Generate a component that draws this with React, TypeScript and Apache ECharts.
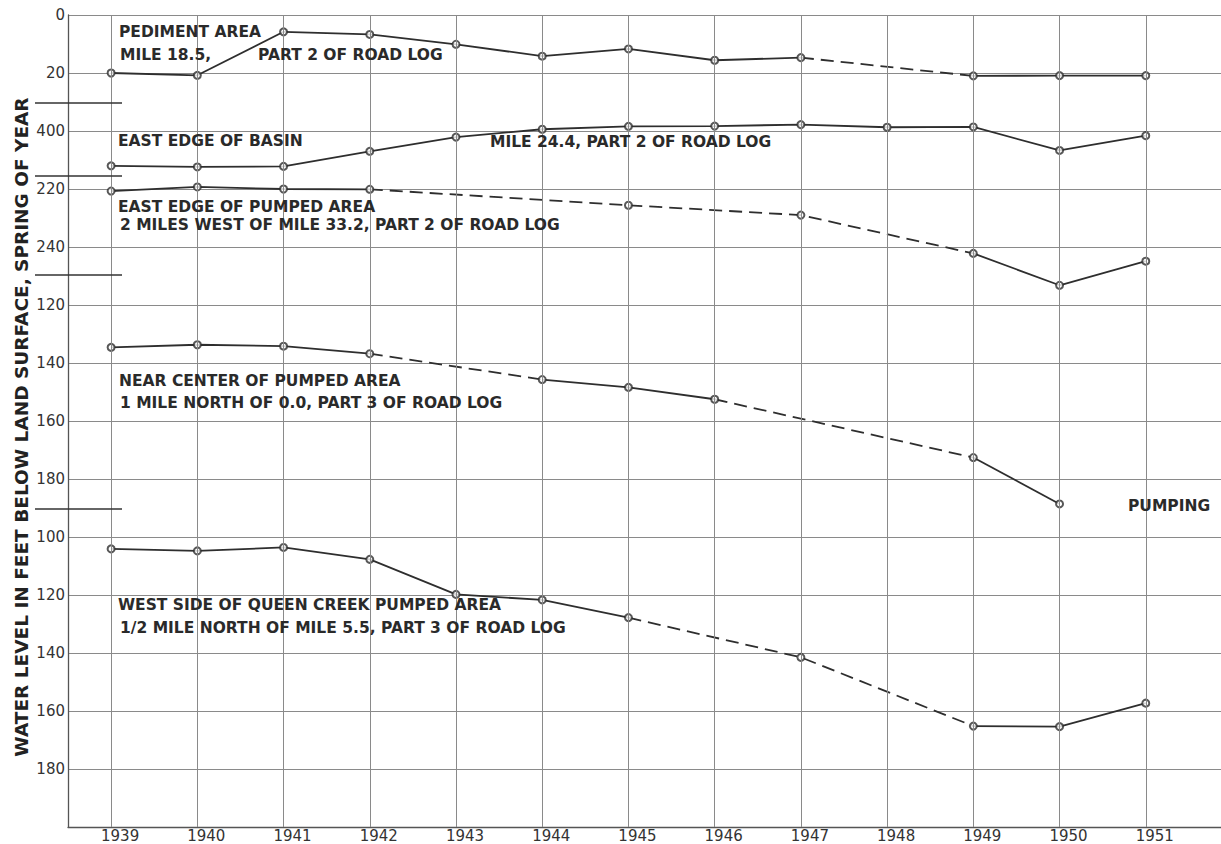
import React, { useEffect, useRef } from "react";
import * as echarts from "echarts";

// ---- data (feet below land surface, spring of year) ----
const YEARS = [1939, 1940, 1941, 1942, 1943, 1944, 1945, 1946, 1947, 1948, 1949, 1950, 1951];

const Y_TICK_LABELS = ["0", "20", "400", "220", "240", "120", "140", "160", "180", "100", "120", "140", "160", "180", ""];

// Pediment area, mile 18.5
const PEDIMENT_YEARS = [1939, 1940, 1941, 1942, 1943, 1944, 1945, 1946, 1947, 1949, 1950, 1951];
const PEDIMENT_FEET = [20.0, 20.8, 5.8, 6.7, 10.1, 14.2, 11.7, 15.6, 14.7, 21.0, 20.9, 20.9];
const PEDIMENT_DASHED_FROM = [1947];
const PEDIMENT_SHIFT = 0;

// East edge of basin, mile 24.4
const BASIN_YEARS = [1939, 1940, 1941, 1942, 1943, 1944, 1945, 1946, 1947, 1948, 1949, 1950, 1951];
const BASIN_FEET = [212.0, 212.4, 212.2, 207.0, 202.1, 199.4, 198.4, 198.3, 197.8, 198.7, 198.6, 206.7, 201.6];
const BASIN_DASHED_FROM: number[] = [];
const BASIN_SHIFT = -160;

// East edge of pumped area, 2 miles west of mile 33.2
const EDGE_YEARS = [1939, 1940, 1941, 1942, 1945, 1947, 1949, 1950, 1951];
const EDGE_FEET = [220.7, 219.3, 220.0, 220.1, 225.6, 229.0, 242.2, 253.2, 244.9];
const EDGE_DASHED_FROM = [1942, 1945, 1947];
const EDGE_SHIFT = -160;

// Near center of pumped area
const CENTER_YEARS = [1939, 1940, 1941, 1942, 1944, 1945, 1946, 1949, 1950];
const CENTER_FEET = [134.6, 133.7, 134.2, 136.8, 145.7, 148.4, 152.5, 172.6, 188.6];
const CENTER_DASHED_FROM = [1942, 1946];
const CENTER_SHIFT = -20;

// West side of Queen Creek pumped area
const WEST_YEARS = [1939, 1940, 1941, 1942, 1943, 1944, 1945, 1947, 1949, 1950, 1951];
const WEST_FEET = [104.1, 104.8, 103.6, 107.7, 119.8, 121.7, 127.8, 141.5, 165.2, 165.4, 157.3];
const WEST_DASHED_FROM = [1945, 1947];
const WEST_SHIFT = 80;

const LINE_COLOR = "#2e2e2e";
const GRID_COLOR = "#8a8a8a";
const TEXT_FONT = "DejaVu Sans";

function buildWell(name: string, years: number[], feet: number[], dashedFrom: number[], shift: number) {
  const pts = years.map((y, i) => [y, feet[i] + shift]);
  const out: any[] = [];
  let cur: number[][] = [pts[0]];
  let curDashed = dashedFrom.includes(years[0]);
  for (let i = 0; i < pts.length - 1; i++) {
    const d = dashedFrom.includes(years[i]);
    if (d !== curDashed && cur.length > 1) {
      out.push({ data: cur, dashed: curDashed });
      cur = [pts[i]];
    }
    curDashed = d;
    cur.push(pts[i + 1]);
  }
  if (cur.length > 1) out.push({ data: cur, dashed: curDashed });
  const series: any[] = out.map((seg, k) => ({
    name: name + "-" + k,
    type: "line",
    data: seg.data,
    showSymbol: false,
    symbol: "none",
    silent: true,
    z: 3,
    lineStyle: { color: LINE_COLOR, width: 1.8, type: seg.dashed ? [13, 7] : "solid" },
  }));
  series.push({
    name: name + "-pts",
    type: "scatter",
    data: pts,
    symbol: "emptyCircle",
    symbolSize: 7,
    silent: true,
    z: 4,
    itemStyle: { color: LINE_COLOR, borderColor: LINE_COLOR, borderWidth: 1.3 },
  });
  return series;
}

function txt(text: string, x: number, y: number, size = 15.5, bold = true) {
  return {
    type: "text",
    x,
    y,
    z: 10,
    style: {
      text,
      fill: "#2a2a2a",
      font: `${bold ? "bold " : ""}${size}px "${TEXT_FONT}"`,
      align: "left",
      verticalAlign: "middle",
      textAlign: "left",
      textVerticalAlign: "middle",
    },
  };
}

function brk(y: number) {
  return {
    type: "line",
    z: 10,
    shape: { x1: 35, y1: y, x2: 122, y2: y },
    style: { stroke: "#333", lineWidth: 1.5 },
  };
}

export default function App() {
  const ref = useRef<HTMLDivElement>(null);
  useEffect(() => {
    document.body.style.margin = "0";
    document.body.style.overflow = "hidden";
    document.documentElement.style.overflow = "hidden";
    if (!ref.current) return;
    const chart = echarts.init(ref.current, undefined, { renderer: "svg" });
    const series: any[] = [
      ...buildWell("pediment", PEDIMENT_YEARS, PEDIMENT_FEET, PEDIMENT_DASHED_FROM, PEDIMENT_SHIFT),
      ...buildWell("basin", BASIN_YEARS, BASIN_FEET, BASIN_DASHED_FROM, BASIN_SHIFT),
      ...buildWell("edge", EDGE_YEARS, EDGE_FEET, EDGE_DASHED_FROM, EDGE_SHIFT),
      ...buildWell("center", CENTER_YEARS, CENTER_FEET, CENTER_DASHED_FROM, CENTER_SHIFT),
      ...buildWell("west", WEST_YEARS, WEST_FEET, WEST_DASHED_FROM, WEST_SHIFT),
    ];
    // vertical year grid lines
    series.push({
      name: "years",
      type: "line",
      data: [],
      silent: true,
      z: 1,
      markLine: {
        silent: true,
        symbol: ["none", "none"],
        label: { show: false },
        animation: false,
        lineStyle: { color: GRID_COLOR, width: 1, type: "solid" },
        data: YEARS.map((y) => ({ xAxis: y })),
      },
    });
    chart.setOption({
      animation: false,
      backgroundColor: "#ffffff",
      grid: { left: 68, top: 15, width: 1164, height: 812, containLabel: false },
      xAxis: {
        type: "value",
        min: 1938.5,
        max: 1952,
        interval: 0.5,
        axisLine: { show: true, onZero: false, lineStyle: { color: "#555", width: 1.3 } },
        axisTick: { show: false },
        splitLine: { show: false },
        axisLabel: {
          margin: 1,
          color: "#333",
          fontFamily: TEXT_FONT,
          fontSize: 15,
          padding: [0, 0, 0, 18],
          formatter: (v: number) => (YEARS.includes(v) ? String(v) : ""),
        },
      },
      yAxis: {
        type: "value",
        inverse: true,
        min: 0,
        max: 280,
        interval: 20,
        axisLine: { show: true, onZero: false, lineStyle: { color: "#555", width: 1.3 } },
        axisTick: { show: false },
        splitLine: { show: true, lineStyle: { color: GRID_COLOR, width: 1 } },
        axisLabel: {
          margin: 3,
          color: "#333",
          fontFamily: TEXT_FONT,
          fontSize: 15,
          showMinLabel: true,
          showMaxLabel: true,
          formatter: (v: number) => Y_TICK_LABELS[Math.round(v / 20)] ?? "",
        },
      },
      graphic: [
        {
          type: "text",
          x: 21,
          y: 427,
          rotation: Math.PI / 2,
          z: 10,
          style: {
            text: "WATER LEVEL IN FEET BELOW LAND SURFACE, SPRING OF YEAR",
            fill: "#222",
            font: `bold 18.5px "${TEXT_FONT}"`,
            align: "center",
            verticalAlign: "middle",
            textAlign: "center",
            textVerticalAlign: "middle",
          },
        },
        brk(103),
        brk(176),
        brk(275),
        brk(509),
        txt("PEDIMENT AREA", 119, 32),
        txt("MILE 18.5,", 120, 55),
        txt("PART 2 OF ROAD LOG", 258, 55),
        txt("EAST EDGE OF BASIN", 118, 141),
        txt("MILE 24.4, PART 2 OF ROAD LOG", 490, 142),
        txt("EAST EDGE OF PUMPED AREA", 118, 207),
        txt("2 MILES WEST OF MILE 33.2, PART 2 OF ROAD LOG", 120, 225),
        txt("NEAR CENTER OF PUMPED AREA", 119, 381),
        txt("1 MILE NORTH OF 0.0, PART 3 OF ROAD LOG", 120, 403),
        txt("PUMPING", 1128, 506),
        txt("WEST SIDE OF QUEEN CREEK PUMPED AREA", 118, 605),
        txt("1/2 MILE NORTH OF MILE 5.5, PART 3 OF ROAD LOG", 120, 628),
      ],
      series,
    });
    return () => chart.dispose();
  }, []);
  return <div ref={ref} style={{ width: 1240, height: 844, background: "#fff", overflow: "hidden" }} />;
}
